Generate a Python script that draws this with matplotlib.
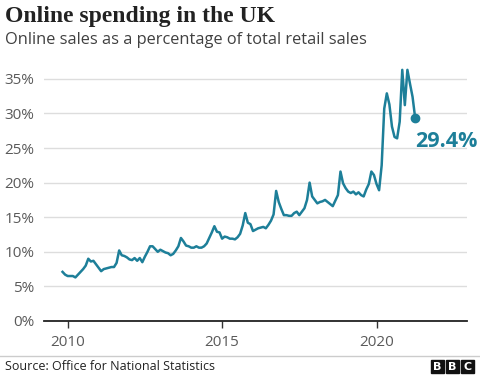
import numpy as np
import matplotlib.pyplot as plt
from matplotlib.patches import Rectangle

# monthly online share of retail sales, Nov 2009 - Apr 2021
start_year, start_month = 2009, 11
online_share = [
    7.1, 6.7, 6.5, 6.5, 6.5, 6.3, 6.7, 7.1, 7.5, 8.0,
    9.0, 8.6, 8.7, 8.2, 7.7, 7.2, 7.5, 7.6, 7.7, 7.8,
    7.8, 8.4, 10.2, 9.5, 9.4, 9.2, 8.9, 8.8, 9.1, 8.7,
    9.1, 8.5, 9.3, 10.0, 10.8, 10.8, 10.4, 10.0, 10.3, 10.1,
    9.9, 9.8, 9.5, 9.7, 10.2, 10.8, 12.0, 11.5, 10.9, 10.8,
    10.6, 10.6, 10.8, 10.6, 10.6, 10.8, 11.2, 12.0, 12.8, 13.7,
    12.9, 12.8, 11.9, 12.2, 12.1, 11.9, 11.9, 11.8, 12.1, 12.6,
    13.8, 15.6, 14.2, 14.0, 13.0, 13.2, 13.4, 13.5, 13.6, 13.4,
    13.9, 14.5, 15.4, 18.8, 17.2, 16.2, 15.3, 15.3, 15.2, 15.2,
    15.6, 15.8, 15.3, 15.8, 16.3, 17.5, 20.0, 18.0, 17.5, 17.0,
    17.2, 17.3, 17.5, 17.2, 16.9, 16.6, 17.4, 18.2, 21.6, 19.9,
    19.2, 18.7, 18.5, 18.7, 18.3, 18.6, 18.2, 18.0, 19.0, 19.8,
    21.6, 21.1, 19.8, 18.9, 22.5, 30.7, 32.9, 31.3, 28.1, 26.6,
    26.4, 28.8, 36.3, 31.2, 36.3, 34.3, 32.4, 29.4,
]
year_ticks = [2010, 2015, 2020]
pct_ticks = [0, 5, 10, 15, 20, 25, 30, 35]

months = np.arange(len(online_share))
dates = start_year + (start_month - 1 + months) / 12.0
share = np.array(online_share)

teal = '#1d7f99'
grey_txt = '#5a5a5a'

fig = plt.figure(figsize=(4.8, 3.75), dpi=100)
ax = fig.add_axes([44 / 480, 54 / 375, 422.7 / 480, 256 / 375])

ax.plot(dates, share, color=teal, lw=1.8, solid_joinstyle='round', clip_on=False, zorder=3)
ax.plot(dates[-1], share[-1], 'o', color=teal, ms=6, clip_on=False, zorder=4)
ax.text(dates[-1] + 0.0, share[-1] - 3.5, f'{share[-1]:.1f}%', color=teal,
        fontsize=15.5, fontweight='bold', family='Open Sans', va='center', ha='left')

ax.set_xlim(2009.233, 2022.92)
ax.set_ylim(0, 37)
ax.set_yticks(pct_ticks)
ax.set_yticklabels([f'{t}%' for t in pct_ticks])
ax.set_xticks(year_ticks)
ax.set_xticklabels([str(y) for y in year_ticks])
ax.tick_params(axis='y', length=0, pad=7, labelsize=11, labelcolor=grey_txt)
ax.tick_params(axis='x', length=5, width=1, color='#333333', pad=5,
               labelsize=11, labelcolor=grey_txt)
for lab in ax.get_xticklabels() + ax.get_yticklabels():
    lab.set_family('Open Sans')
ax.grid(axis='y', color='#dddddd', lw=1)
ax.set_axisbelow(True)
for s in ['top', 'right', 'left']:
    ax.spines[s].set_visible(False)
ax.spines['bottom'].set_color('#222222')
ax.spines['bottom'].set_linewidth(1.3)
ax.spines['bottom'].set_zorder(5)

fig.text(5 / 480, 1 - 22 / 375, 'Online spending in the UK', fontsize=17,
         fontweight='bold', family='Liberation Serif', color='#222222', va='baseline')
fig.text(5 / 480, 1 - 44 / 375, 'Online sales as a percentage of total retail sales',
         fontsize=11.8, family='Open Sans', color='#404040', va='baseline')

fig.add_artist(plt.Line2D([0, 1], [1 - 356 / 375, 1 - 356 / 375], color='#cccccc', lw=1))
fig.text(5 / 480, 1 - 367 / 375, 'Source: Office for National Statistics', fontsize=9,
         family='Open Sans', color='#222222', va='center')

# BBC blocks
for k, letter in enumerate('BBC'):
    x0 = 431 + k * 15
    fig.add_artist(Rectangle((x0 / 480, 1 - 373 / 375), 13 / 480, 13 / 375,
                             transform=fig.transFigure, color='#111111'))
    fig.text((x0 + 6.5) / 480, 1 - 366.5 / 375, letter, color='white', fontsize=8,
             fontweight='bold', family='DejaVu Sans', ha='center', va='center')

fig.savefig('out.png', dpi=100)
